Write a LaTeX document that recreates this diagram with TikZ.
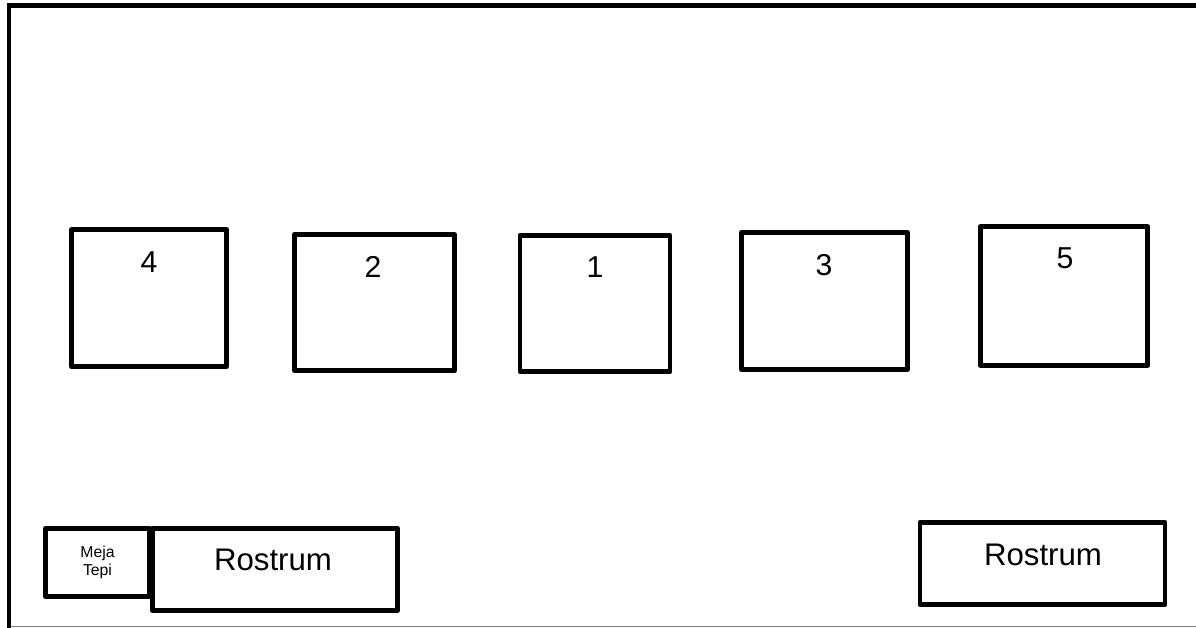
\documentclass[tikz,border=0pt]{standalone}
\usepackage{fontspec}
\setmainfont{Liberation Sans}
\usepackage{tikz}
\usetikzlibrary{positioning}
\newlength{\px}
\setlength{\px}{0.025cm}
\tikzset{
    % Room frame
    wall/.style={line width=3.5pt, line cap=rect},
    floorline/.style={line width=0.8pt, gray},
    % Tables
    seatbox/.style={rectangle, draw=black, line width=3.5pt, line join=round,
                 inner sep=0pt, minimum width=#1},
    seatnum/.style={font=\fontsize{21.5}{21.5}\selectfont},
    rostbox/.style={rectangle, draw=black, fill=white, line width=3.5pt, line join=round,
                 inner sep=0pt, minimum width=245\px, minimum height=82\px},
    rosttxt/.style={font=\fontsize{22.2}{22.2}\selectfont},
    mejabox/.style={rectangle, draw=black, line width=3.5pt, line join=round,
                 inner sep=0pt, minimum width=104\px, minimum height=68\px,
                 align=center, font=\fontsize{11.2}{13}\selectfont},
}

\begin{document}
\begin{tikzpicture}[x=0.025cm, y=-0.025cm]
\useasboundingbox (0,0) rectangle (1196,628);

% frame
\coordinate (tl) at (9,5.5);
\coordinate (tr) at (1196,5.5);
\coordinate (bl) at (9,628);
\coordinate (fl) at (9,626.5);
\coordinate (fr) at (1196,626.5);
\draw[floorline] (fl) -- (fr);
\draw[wall] (bl) -- (tl) -- (tr);

% tables
\node[seatbox=155\px, minimum height=137\px] (t4) at (149,298)    {};
\node[seatbox=160\px, minimum height=136\px] (t2) at (374.5,302.5) {};
\node[seatbox=150\px, minimum height=136\px] (t1) at (595,303.5)   {};
\node[seatbox=166\px, minimum height=137\px] (t3) at (824.5,301)   {};
\node[seatbox=167\px, minimum height=139\px] (t5) at (1064,296)    {};

\node[seatnum] (n4) at (149,262) {4};
\node[seatnum] (n2) at (373,267) {2};
\node[seatnum] (n1) at (595,267) {1};
\node[seatnum] (n3) at (824,265) {3};
\node[seatnum] (n5) at (1065,258) {5};

% front
\node[mejabox] (meja) at (97.5,562.5) {Meja\\Tepi};
\node[rostbox] (rostL) at (275,569.5) {};
\node[rostbox] (rostR) at (1042.5,563.5) {};
\node[rosttxt] (rlL) at (273,560) {Rostrum};
\node[rosttxt] (rlR) at (1043,555) {Rostrum};
\end{tikzpicture}
\end{document}
